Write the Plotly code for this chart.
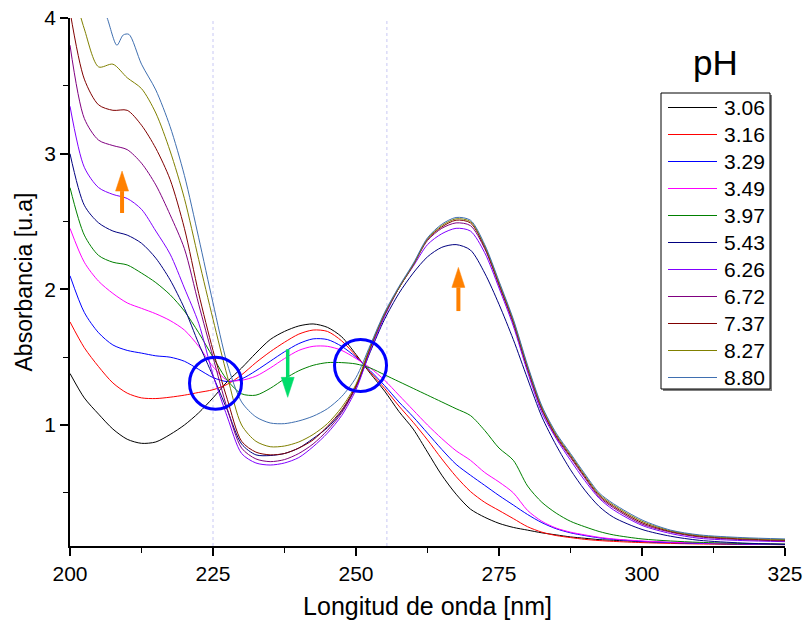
import plotly.graph_objects as go

# Sampling wavelengths (nm) shared by most spectra
wavelength = [200, 202.5, 205, 207.5, 210, 212.5, 215, 217.5, 220, 222.5,
              225, 227.5, 230, 232.5, 235, 237.5, 240, 242.5, 245, 247.5,
              250, 252.5, 255, 257.5, 260, 262.5, 265, 267.5, 270, 272.5,
              275, 277.5, 280, 282.5, 285, 287.5, 290, 292.5, 295, 300,
              305, 310, 317.5, 325]

ph_labels = ["3.06", "3.16", "3.29", "3.49", "3.97", "5.43",
             "6.26", "6.72", "7.37", "8.27", "8.80"]

abs_306 = [1.38, 1.20, 1.08, 0.97, 0.895, 0.865, 0.875, 0.93, 1.00, 1.09,
           1.20, 1.32, 1.42, 1.53, 1.63, 1.69, 1.73, 1.745, 1.72, 1.65,
           1.52, 1.38, 1.25, 1.10, 0.97, 0.80, 0.63, 0.49, 0.38, 0.32,
           0.275, 0.245, 0.225, 0.205, 0.19, 0.175, 0.165, 0.155, 0.15, 0.14,
           0.133, 0.128, 0.123, 0.12]
abs_316 = [1.76, 1.57, 1.43, 1.31, 1.235, 1.20, 1.195, 1.205, 1.22, 1.24,
           1.26, 1.30, 1.37, 1.46, 1.54, 1.61, 1.67, 1.70, 1.69, 1.62,
           1.51, 1.39, 1.27, 1.14, 1.02, 0.89, 0.75, 0.62, 0.51, 0.43,
           0.37, 0.31, 0.25, 0.21, 0.185, 0.17, 0.157, 0.148, 0.142, 0.133,
           0.127, 0.123, 0.12, 0.118]
abs_329 = [2.10, 1.83, 1.68, 1.59, 1.55, 1.53, 1.51, 1.50, 1.47, 1.41,
           1.35, 1.32, 1.34, 1.40, 1.47, 1.54, 1.60, 1.635, 1.63, 1.58,
           1.50, 1.40, 1.29, 1.17, 1.06, 0.94, 0.82, 0.71, 0.63, 0.555,
           0.48, 0.41, 0.34, 0.28, 0.235, 0.205, 0.185, 0.168, 0.157, 0.142,
           0.133, 0.127, 0.122, 0.118]
abs_349 = [2.45, 2.20, 2.06, 1.97, 1.90, 1.86, 1.82, 1.77, 1.70, 1.58,
           1.43, 1.33, 1.33, 1.36, 1.42, 1.49, 1.55, 1.58, 1.58, 1.55,
           1.49, 1.42, 1.33, 1.22, 1.11, 1.00, 0.90, 0.81, 0.74, 0.65,
           0.58, 0.50, 0.37, 0.29, 0.24, 0.21, 0.19, 0.172, 0.16, 0.145,
           0.136, 0.13, 0.125, 0.12]
abs_397 = [2.75, 2.40, 2.25, 2.20, 2.18, 2.12, 2.05, 1.96, 1.84, 1.68,
           1.50, 1.33, 1.23, 1.22, 1.27, 1.34, 1.40, 1.44, 1.46, 1.46,
           1.45, 1.42, 1.37, 1.32, 1.27, 1.22, 1.17, 1.12, 1.07, 0.96,
           0.83, 0.74, 0.55, 0.43, 0.35, 0.29, 0.25, 0.215, 0.19, 0.16,
           0.145, 0.135, 0.127, 0.122]
abs_543 = [3.00, 2.62, 2.49, 2.43, 2.40, 2.34, 2.23, 2.07, 1.86, 1.60,
           1.36, 1.11, 0.86, 0.78, 0.775, 0.79, 0.83, 0.90, 0.98, 1.10,
           1.28, 1.54, 1.78, 1.97, 2.12, 2.24, 2.31, 2.33, 2.29, 2.12,
           1.89, 1.63, 1.34, 1.06, 0.85, 0.67, 0.52, 0.40, 0.32, 0.23,
           0.18, 0.15, 0.13, 0.12]
abs_626 = [3.35, 2.90, 2.75, 2.70, 2.67, 2.59, 2.43, 2.26, 2.01, 1.75,
           1.37, 1.06, 0.79, 0.72, 0.705, 0.72, 0.76, 0.84, 0.94, 1.07,
           1.26, 1.55, 1.80, 2.01, 2.17, 2.33, 2.41, 2.45, 2.43, 2.27,
           2.01, 1.73, 1.39, 1.09, 0.90, 0.74, 0.59, 0.46, 0.375, 0.26,
           0.20, 0.165, 0.148, 0.14]
abs_672 = [3.80, 3.26, 3.10, 3.06, 3.03, 2.93, 2.77, 2.55, 2.30, 1.89,
           1.50, 1.12, 0.83, 0.75, 0.73, 0.745, 0.79, 0.86, 0.96, 1.09,
           1.28, 1.57, 1.81, 2.01, 2.18, 2.36, 2.45, 2.49, 2.47, 2.30,
           2.03, 1.75, 1.41, 1.11, 0.91, 0.76, 0.61, 0.47, 0.39, 0.27,
           0.21, 0.175, 0.155, 0.145]
abs_737 = [4.05, 3.55, 3.36, 3.32, 3.32, 3.21, 3.04, 2.81, 2.45, 1.97,
           1.55, 1.19, 0.88, 0.80, 0.78, 0.79, 0.83, 0.89, 0.99, 1.11,
           1.29, 1.57, 1.82, 2.01, 2.18, 2.37, 2.46, 2.51, 2.49, 2.31,
           2.04, 1.76, 1.42, 1.12, 0.92, 0.77, 0.62, 0.48, 0.40, 0.28,
           0.215, 0.18, 0.16, 0.15]
abs_827 = [4.30, 3.92, 3.64, 3.66, 3.56, 3.48, 3.30, 3.02, 2.67, 2.22,
           1.78, 1.36, 1.00, 0.88, 0.84, 0.845, 0.875, 0.93, 1.01, 1.13,
           1.30, 1.58, 1.82, 2.01, 2.18, 2.37, 2.47, 2.52, 2.50, 2.32,
           2.05, 1.77, 1.43, 1.13, 0.93, 0.78, 0.63, 0.49, 0.41, 0.29,
           0.22, 0.185, 0.165, 0.155]

# The pH 8.80 spectrum carries a little noise near 208 nm, so it keeps its own grid
wavelength_880 = [200, 202.5, 205, 206.5, 208.2, 209.3, 210.3, 212.5, 215, 217.5,
                  220, 222.5, 225, 227.5, 230, 232.5, 235, 237.5, 240, 242.5,
                  245, 247.5, 250, 252.5, 255, 257.5, 260, 262.5, 265, 267.5,
                  270, 272.5, 275, 277.5, 280, 282.5, 285, 287.5, 290, 292.5,
                  295, 300, 305, 310, 317.5, 325]
abs_880 = [4.75, 4.45, 4.15, 4.00, 3.80, 3.875, 3.88, 3.66, 3.47, 3.20,
           2.84, 2.38, 1.90, 1.45, 1.17, 1.06, 1.015, 1.01, 1.03, 1.065,
           1.12, 1.21, 1.35, 1.59, 1.83, 2.02, 2.19, 2.38, 2.48, 2.53,
           2.51, 2.33, 2.06, 1.78, 1.44, 1.14, 0.94, 0.79, 0.64, 0.50,
           0.42, 0.30, 0.225, 0.19, 0.17, 0.16]

line_colors = ["#000000", "#FF0000", "#0000FF", "#FF00FF", "#008000", "#000080",
               "#8000FF", "#800080", "#800000", "#808000", "#3F6FB0"]

spectra = [
    (wavelength, abs_306), (wavelength, abs_316), (wavelength, abs_329),
    (wavelength, abs_349), (wavelength, abs_397), (wavelength, abs_543),
    (wavelength, abs_626), (wavelength, abs_672), (wavelength, abs_737),
    (wavelength, abs_827), (wavelength_880, abs_880),
]

X_RANGE = [200, 325]
Y_RANGE = [0.108, 4.0005]
MARGIN = dict(l=70, r=19, t=18, b=82)
W, H = 804, 628
PLOT_W = W - MARGIN["l"] - MARGIN["r"]
PLOT_H = H - MARGIN["t"] - MARGIN["b"]
PX_X = (X_RANGE[1] - X_RANGE[0]) / PLOT_W   # nm per pixel
PX_Y = (Y_RANGE[1] - Y_RANGE[0]) / PLOT_H   # absorbance per pixel

FONT = "Liberation Sans, Arial, sans-serif"


def paper_x(px):
    return (px - MARGIN["l"]) / PLOT_W


def paper_y(py):
    return (H - MARGIN["b"] - py) / PLOT_H


fig = go.Figure()

for (wl, ab), label, col in zip(spectra, ph_labels, line_colors):
    fig.add_trace(go.Scatter(
        x=wl, y=ab, mode="lines", name=label, showlegend=False,
        line=dict(color=col, width=1, shape="spline", smoothing=0.8),
    ))

shapes = []
annotations = []

# dotted guide lines
for xv in (225, 255.4):
    shapes.append(dict(type="line", xref="x", yref="paper", x0=xv, x1=xv, y0=0, y1=1,
                       line=dict(color="#C8C8F4", width=1, dash="dot"), layer="below"))

# isosbestic point markers
R = 26
for cx, cy in ((225.44, 1.308), (250.79, 1.4386)):
    shapes.append(dict(type="circle", xref="x", yref="y",
                       x0=cx - R * PX_X, x1=cx + R * PX_X,
                       y0=cy - R * PX_Y, y1=cy + R * PX_Y,
                       line=dict(color="#0000FF", width=3)))


def arrow(x, y_tail, y_tip, color, shaft=4, head_len=20, head_w=13):
    """Vertical block arrow built from a shaft line and a triangular head."""
    d = 1 if y_tip > y_tail else -1
    y_base = y_tip - d * head_len * PX_Y
    hw = head_w / 2 * PX_X
    shapes.append(dict(type="line", xref="x", yref="y", x0=x, x1=x,
                       y0=y_tail, y1=y_base, line=dict(color=color, width=shaft)))
    shapes.append(dict(type="path", xref="x", yref="y",
                       path=f"M {x - hw},{y_base} L {x + hw},{y_base} L {x},{y_tip} Z",
                       fillcolor=color, line=dict(color=color, width=0.5)))


arrow(209.1, 2.563, 2.872, "#FF8000")
arrow(267.9, 1.840, 2.162, "#FF8000")
arrow(238.06, 1.558, 1.204, "#00DD6A", shaft=3.5)

# legend box (drop shadow, frame, one row per spectrum)
BOX = dict(left=661, right=770, top=93, bottom=389)
ROW0, ROW_STEP = 107.5, 27.0
shapes.append(dict(type="rect", xref="paper", yref="paper",
                   x0=paper_x(BOX["left"] + 2), x1=paper_x(BOX["right"] + 2),
                   y0=paper_y(BOX["bottom"] + 2), y1=paper_y(BOX["top"] + 2),
                   fillcolor="#808080", line=dict(width=0)))
shapes.append(dict(type="rect", xref="paper", yref="paper",
                   x0=paper_x(BOX["left"]), x1=paper_x(BOX["right"]),
                   y0=paper_y(BOX["bottom"]), y1=paper_y(BOX["top"]),
                   fillcolor="white", line=dict(color="black", width=1)))
for i, (label, col) in enumerate(zip(ph_labels, line_colors)):
    yy = paper_y(ROW0 + i * ROW_STEP)
    shapes.append(dict(type="line", xref="paper", yref="paper",
                       x0=paper_x(668), x1=paper_x(717), y0=yy, y1=yy,
                       line=dict(color=col, width=1)))
    annotations.append(dict(text=label, xref="paper", yref="paper",
                            x=paper_x(722), y=yy, xanchor="left", yanchor="middle",
                            showarrow=False, font=dict(family=FONT, size=21, color="black")))

annotations.append(dict(text="pH", xref="paper", yref="paper",
                        x=paper_x(715), y=paper_y(62), xanchor="center", yanchor="middle",
                        showarrow=False, font=dict(family=FONT, size=35, color="black")))

fig.update_layout(
    width=W, height=H, margin=MARGIN,
    paper_bgcolor="white", plot_bgcolor="white",
    font=dict(family=FONT, color="black", size=20),
    shapes=shapes,
    annotations=annotations,
    showlegend=False,
    xaxis=dict(
        range=X_RANGE, tickvals=[200, 225, 250, 275, 300, 325], automargin=False,
        showgrid=False, zeroline=False, showline=True, linecolor="black", linewidth=1.5,
        ticks="outside", ticklen=8, tickwidth=1.5, tickcolor="black",
        minor=dict(dtick=12.5, tick0=200, ticks="outside", ticklen=5, tickwidth=1.2,
                   tickcolor="black", showgrid=False),
        tickfont=dict(family=FONT, size=21),
        title=dict(text="Longitud de onda [nm]", font=dict(family=FONT, size=25), standoff=14),
    ),
    yaxis=dict(
        range=Y_RANGE, tickvals=[1, 2, 3, 4], automargin=False,
        showgrid=False, zeroline=False, showline=True, linecolor="black", linewidth=1.5,
        ticks="outside", ticklen=8, tickwidth=1.5, tickcolor="black",
        minor=dict(dtick=0.5, tick0=0, ticks="outside", ticklen=5, tickwidth=1.2,
                   tickcolor="black", showgrid=False),
        tickfont=dict(family=FONT, size=21),
        title=dict(text="Absorbancia [u.a]", font=dict(family=FONT, size=23), standoff=5),
    ),
)

fig.write_html("out.html")
